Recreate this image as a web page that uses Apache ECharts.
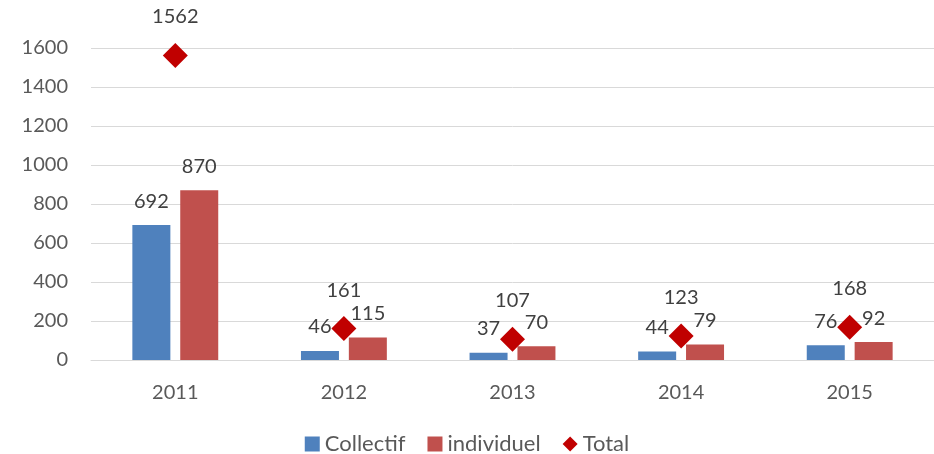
<!DOCTYPE html>
<html lang="fr">
  <head>
    <meta charset="UTF-8" />
    <title>Collectif / individuel</title>
    <style>
      html,
      body {
        margin: 0;
        padding: 0;
        background: #fff;
      }
      #chart {
        width: 934px;
        height: 454px;
      }
    </style>
  </head>
  <body>
    <div id="chart"></div>
    <script src="https://cdn.jsdelivr.net/npm/echarts@6/dist/echarts.min.js"></script>
    <script>
      const years = ["2011", "2012", "2013", "2014", "2015"];
      const collectif = [692, 46, 37, 44, 76];
      const individuel = [870, 115, 70, 79, 92];
      const total = [1562, 161, 107, 123, 168];

      const textColor = "#404040";
      const font = "Lato, 'Noto Sans', sans-serif";

      const barLabel = {
        show: true,
        position: "top",
        distance: 14,
        color: textColor,
        opacity: 1,
        fontSize: 20,
        fontFamily: font,
      };

      const chart = echarts.init(document.getElementById("chart"));
      chart.setOption({
        animation: false,
        grid: { left: 91, right: 0, top: 48, bottom: 94 },
        legend: {
          top: 428,
          left: "center",
          itemWidth: 15,
          itemHeight: 15,
          itemGap: 22,
          textStyle: { color: "#595959", fontSize: 22, fontFamily: font },
          data: [
            { name: "Collectif", icon: "rect" },
            { name: "individuel", icon: "rect" },
            { name: "Total", icon: "diamond" },
          ],
        },
        xAxis: {
          type: "category",
          data: years,
          axisLine: { lineStyle: { color: "#D9D9D9", width: 1 } },
          axisTick: { show: false },
          axisLabel: { color: "#595959", fontSize: 20, fontFamily: font, margin: 23 },
        },
        yAxis: {
          type: "value",
          min: 0,
          max: 1600,
          interval: 200,
          axisLine: { show: false },
          axisTick: { show: false },
          splitLine: { lineStyle: { color: "#D9D9D9", width: 1 } },
          axisLabel: {
            color: "#595959",
            fontSize: 20,
            fontFamily: font,
            margin: 23,
            formatter: (v) => String(v),
          },
        },
        series: [
          {
            name: "Collectif",
            type: "bar",
            data: collectif,
            barWidth: 38,
            barGap: "26%",
            itemStyle: { color: "#4F81BD" },
            label: barLabel,
          },
          {
            name: "individuel",
            type: "bar",
            data: individuel,
            barWidth: 38,
            itemStyle: { color: "#C0504D" },
            label: barLabel,
          },
          {
            name: "Total",
            type: "scatter",
            data: total,
            symbol: "diamond",
            symbolSize: 25,
            itemStyle: { color: "#C00000", opacity: 1 },
            label: Object.assign({}, barLabel, { distance: 16 }),
            z: 5,
          },
        ],
      });
    </script>
  </body>
</html>
